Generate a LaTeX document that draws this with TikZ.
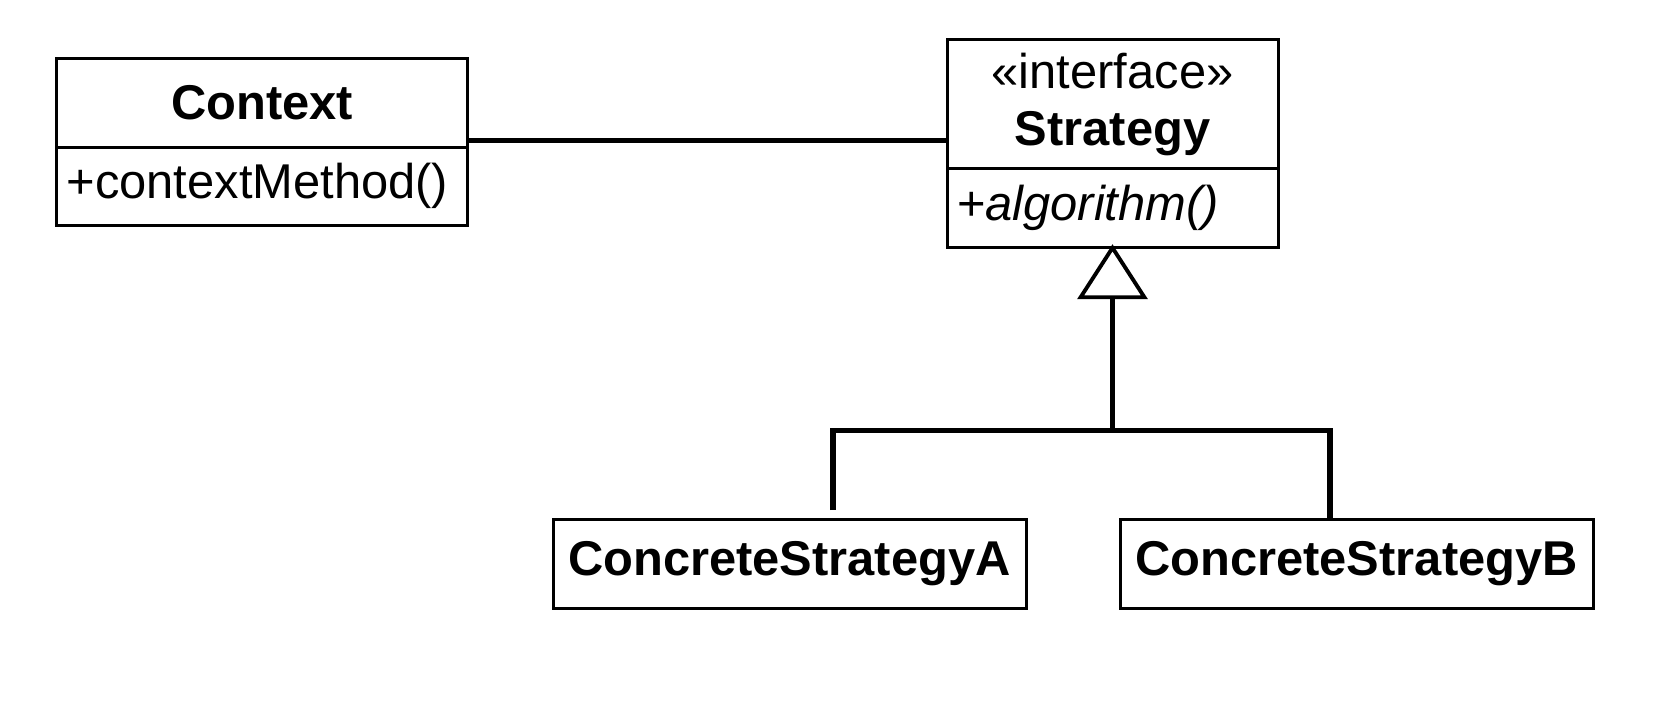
\documentclass[tikz,border=0pt]{standalone}
\usepackage{fontspec}
\setmainfont{Liberation Sans}
\usetikzlibrary{arrows.meta, positioning, calc}

\begin{document}
\begin{tikzpicture}[
        classhead/.style={rectangle, draw=black, line width=0.85pt, minimum width=#1, inner sep=0pt, align=center, font=\fontsize{13.9}{16.2}\selectfont},
        classhead/.default=4.11cm,
        classbody/.style={rectangle, draw=black, line width=0.85pt, minimum width=#1, text width=#1-0.2cm, inner sep=0.1cm, align=left, font=\fontsize{13.9}{16.2}\selectfont},
        classbody/.default=4.11cm,
        concrete/.style={rectangle, draw=black, line width=0.85pt, minimum width=4.73cm, minimum height=0.89cm, inner sep=0pt, font=\fontsize{13.9}{16.2}\selectfont\bfseries},
        assoc/.style={line width=1.5pt, draw=black},
        inherit/.style={-{Triangle[open, length=0.55cm, width=0.7cm, line width=1.1pt]}, shorten >=-0.05cm, line width=1.5pt, draw=black}
    ]
        \useasboundingbox (0,0) rectangle (16.74,-7.06);

        \node[classhead, minimum height=0.886cm] (ctxhead) at (2.621,-1.030) {\bfseries Context};
        \node[classbody, minimum height=0.78cm] (ctxbody) at (2.621,-1.863) {+contextMethod()};
        \node[classhead=3.31cm, minimum height=1.292cm] (strhead) at (11.125,-1.041) {«interface»\\\bfseries Strategy};
        \node[classbody=3.31cm, minimum height=0.79cm] (strbody) at (11.125,-2.082) {+\textit{algorithm()}};
        \node[concrete] (csa) at (7.895,-5.64) {ConcreteStrategyA};
        \node[concrete] (csb) at (13.565,-5.64) {ConcreteStrategyB};

        \coordinate (link) at ($(ctxbody.north east)+(0,0.05)$);
        \coordinate (bar) at ($(strbody.south)+(0,-1.81)$);
        \coordinate (dropA) at ($(csa.north)+(0.435,0.08)$);
        \coordinate (dropB) at ($(csb.north)+(-0.265,-0.01)$);

        \draw[assoc] (link) -- (link -| strhead.west);
        \draw[inherit] (bar) -- (strbody.south);
        \draw[assoc] (dropA) |- (bar) -| (dropB);
    \end{tikzpicture}
\end{document}
